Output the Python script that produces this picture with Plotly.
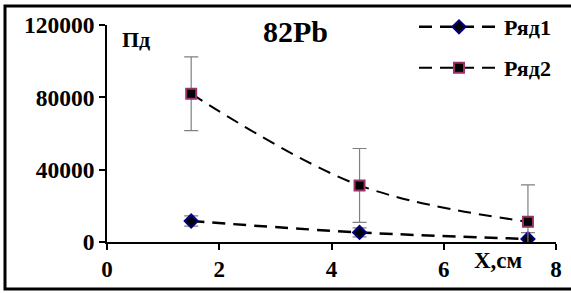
import plotly.graph_objects as go

# Data
x_vals = [1.5, 4.5, 7.5]
series1 = [11600, 5300, 1700]
series1_err = [2800, 2500, 3500]
series2 = [82000, 31300, 11200]
series2_err = [20400, 20400, 20400]
series_names = ["Ряд1", "Ряд2"]
x_ticks = [0, 2, 4, 6, 8]
y_ticks = [0, 40000, 80000, 120000]

W, H = 571, 293
ML, MR, MT, MB = 107, 15, 25, 51
FONT = "Liberation Serif"

fig = go.Figure()
fig.add_trace(go.Scatter(
    x=x_vals, y=series1, name=series_names[0], mode="lines+markers",
    legend="legend",
    line=dict(color="black", width=2.5, dash="13px,8px", shape="spline", smoothing=1),
    marker=dict(symbol="diamond", size=10, color="black", line=dict(color="#000080", width=2)),
    error_y=dict(type="data", array=series1_err, color="#808080", thickness=1.2, width=7),
))
fig.add_trace(go.Scatter(
    x=x_vals, y=series2, name=series_names[1], mode="lines+markers",
    legend="legend2",
    line=dict(color="black", width=2, dash="13px,8px", shape="spline", smoothing=1),
    marker=dict(symbol="square", size=10, color="black", line=dict(color="#993366", width=2)),
    error_y=dict(type="data", array=series2_err, color="#808080", thickness=1.2, width=7),
))

pw = W - ML - MR
ph = H - MT - MB
def px(xp):
    return (xp - ML) / pw
def py(yp):
    return (H - MB - yp) / ph

leg_common = dict(xanchor="left", yanchor="top", xref="container", yref="container",
                  bgcolor="rgba(0,0,0,0)", itemwidth=80,
                  font=dict(family=FONT, size=22, color="black", weight="bold"))

fig.update_layout(
    width=W, height=H,
    margin=dict(l=ML, r=MR, t=MT, b=MB, pad=0, autoexpand=False),
    paper_bgcolor="white", plot_bgcolor="white",
    font=dict(family=FONT, size=22, color="black", weight="bold"),
    showlegend=True,
    legend=dict(x=414 / W, y=1 - 6 / H, **leg_common),
    legend2=dict(x=414 / W, y=1 - 47 / H, **leg_common),
    xaxis=dict(range=[0, 8], tickvals=x_ticks, ticktext=[str(v) for v in x_ticks],
               showgrid=False, zeroline=False, showline=True, linecolor="black", linewidth=1.5,
               ticks="outside", ticklen=6, tickcolor="black", tickwidth=1.5,
               tickfont=dict(family=FONT, size=23, color="black", weight="bold")),
    yaxis=dict(range=[0, 120000], tickvals=y_ticks, ticktext=[str(v) for v in y_ticks],
               showgrid=False, zeroline=False, showline=True, linecolor="black", linewidth=1.5,
               ticks="outside", ticklen=6, tickcolor="black", tickwidth=1.5,
               ticklabelstandoff=0,
               tickfont=dict(family=FONT, size=23.5, color="black", weight="bold")),
    annotations=[
        dict(text="82Pb", xref="paper", yref="paper", x=px(295), y=py(31), showarrow=False,
             xanchor="center", yanchor="middle", font=dict(family=FONT, size=30, weight="bold")),
        dict(text="Пд", xref="paper", yref="paper", x=px(136), y=py(39), showarrow=False,
             xanchor="center", yanchor="middle", font=dict(family=FONT, size=22, weight="bold")),
        dict(text="X,см", xref="paper", yref="paper", x=px(498), y=py(260), showarrow=False,
             xanchor="center", yanchor="middle", font=dict(family=FONT, size=23, weight="bold")),
    ],
    shapes=[dict(type="rect", xref="paper", yref="paper",
                 x0=px(5), x1=px(580), y0=py(289), y1=py(6),
                 line=dict(color="black", width=3), fillcolor="rgba(0,0,0,0)", layer="below")],
)

fig.write_html("out.html", config={"displayModeBar": False},
               post_script="document.body.style.margin='0';document.body.style.overflow='hidden';")
